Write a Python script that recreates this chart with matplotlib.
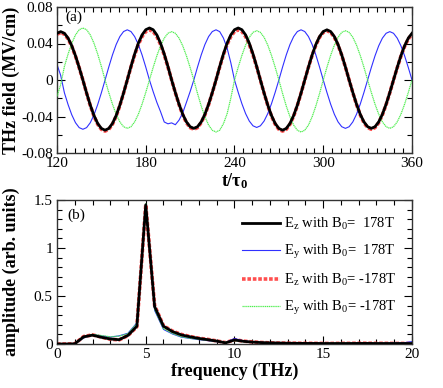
import numpy as np
import matplotlib
matplotlib.use("Agg")
import matplotlib.pyplot as plt
from matplotlib.ticker import MultipleLocator, FixedLocator

plt.rcParams['font.family'] = ['Liberation Serif', 'DejaVu Serif']
plt.rcParams['mathtext.fontset'] = 'custom'
plt.rcParams['mathtext.rm'] = 'Liberation Serif'
plt.rcParams['mathtext.it'] = 'Liberation Serif:italic'
plt.rcParams['mathtext.bf'] = 'Liberation Serif:bold'

# ---------------- panel (a): time traces ----------------
t_start, t_step = 120.0, 2.5
ez_pos = [0.0512, 0.053, 0.0512, 0.0459, 0.0375, 0.0265, 0.0137, 0.0, -0.0142, -0.0275,
          -0.0389, -0.0476, -0.0531, -0.055, -0.0531, -0.0476, -0.0389, -0.0275, -0.0142, 0.0,
          0.0148, 0.0285, 0.0403, 0.0494, 0.0551, 0.057, 0.0551, 0.0494, 0.0403, 0.0285,
          0.0148, 0.0, -0.0137, -0.0265, -0.0375, -0.0459, -0.0512, -0.053, -0.0512, -0.0459,
          -0.0375, -0.0265, -0.0137, 0.0, 0.0148, 0.0285, 0.0403, 0.0494, 0.0551, 0.057,
          0.0551, 0.0494, 0.0403, 0.0285, 0.0148, 0.0, -0.0142, -0.0275, -0.0389, -0.0476,
          -0.0531, -0.055, -0.0531, -0.0476, -0.0389, -0.0275, -0.0142, 0.0, 0.0142, 0.0275,
          0.0389, 0.0476, 0.0531, 0.055, 0.0531, 0.0476, 0.0389, 0.0275, 0.0142, 0.0,
          -0.0137, -0.0265, -0.0375, -0.0459, -0.0512, -0.053, -0.0512, -0.0459, -0.0375, -0.0265,
          -0.0137, 0.0, 0.0137, 0.0265, 0.0375, 0.0459, 0.0512]
ey_pos = [0.017, 0.005, -0.014, -0.027, -0.0382, -0.0468, -0.0522, -0.054, -0.0522, -0.0468,
          -0.0382, -0.027, -0.014, 0.0, 0.0142, 0.0275, 0.0389, 0.0476, 0.0531, 0.055,
          0.0531, 0.0476, 0.0389, 0.0275, 0.0142, 0.0, -0.0127, -0.0245, -0.0347, -0.046,
          -0.048, -0.047, -0.049, -0.044, -0.036, -0.0245, -0.0127, 0.0, 0.0142, 0.0275,
          0.0389, 0.0476, 0.0531, 0.055, 0.053, 0.046, 0.035, 0.019, 0.0, -0.0135,
          -0.026, -0.0368, -0.045, -0.0502, -0.052, -0.0502, -0.045, -0.0368, -0.026, -0.0135,
          0.0, 0.0142, 0.0275, 0.0389, 0.0476, 0.0531, 0.055, 0.0531, 0.0476, 0.0389,
          0.0275, 0.0142, 0.0, -0.0137, -0.0265, -0.0375, -0.0459, -0.0512, -0.053, -0.0512,
          -0.0459, -0.0375, -0.0265, -0.0137, 0.0, 0.0137, 0.0265, 0.0375, 0.0459, 0.0512,
          0.053, 0.0512, 0.0459, 0.0375, 0.0265, 0.0137, 0.0]
ez_neg = [0.0502, 0.052, 0.0502, 0.045, 0.0368, 0.026, 0.0134, 0.0, -0.0145, -0.028,
          -0.0396, -0.0485, -0.0541, -0.056, -0.0541, -0.0485, -0.0396, -0.028, -0.0145, 0.0,
          0.0142, 0.0275, 0.0389, 0.0476, 0.0531, 0.055, 0.0531, 0.0476, 0.0389, 0.0275,
          0.0142, 0.0, -0.014, -0.027, -0.0382, -0.0468, -0.0522, -0.054, -0.0522, -0.0468,
          -0.0382, -0.027, -0.014, 0.0, 0.0142, 0.0275, 0.0389, 0.0476, 0.0531, 0.055,
          0.0531, 0.0476, 0.0389, 0.0275, 0.0142, 0.0, -0.0145, -0.028, -0.0396, -0.0485,
          -0.0541, -0.056, -0.0541, -0.0485, -0.0396, -0.028, -0.0145, 0.0, 0.014, 0.027,
          0.0382, 0.0468, 0.0522, 0.054, 0.0522, 0.0468, 0.0382, 0.027, 0.014, 0.0,
          -0.014, -0.027, -0.0382, -0.0468, -0.0522, -0.054, -0.0522, -0.0468, -0.0382, -0.027,
          -0.014, 0.0, 0.0134, 0.026, 0.0368, 0.045, 0.0502]
ey_neg = [-0.018, -0.005, 0.0148, 0.0285, 0.0403, 0.0494, 0.0551, 0.057, 0.0551, 0.0494,
          0.0403, 0.0285, 0.0148, 0.0, -0.0137, -0.0265, -0.0375, -0.0459, -0.0512, -0.053,
          -0.0512, -0.0459, -0.0375, -0.0265, -0.0137, 0.0, 0.0137, 0.0265, 0.0375, 0.0459,
          0.0512, 0.053, 0.0512, 0.0459, 0.0375, 0.0265, 0.0137, 0.0, -0.0148, -0.0285,
          -0.0403, -0.0494, -0.0551, -0.057, -0.055, -0.048, -0.037, -0.02, 0.0, 0.014,
          0.027, 0.0382, 0.0468, 0.0522, 0.054, 0.0522, 0.0468, 0.0382, 0.027, 0.014,
          0.0, -0.0148, -0.0285, -0.0403, -0.0494, -0.0551, -0.057, -0.0551, -0.0494, -0.0403,
          -0.0285, -0.0148, 0.0, 0.014, 0.027, 0.0382, 0.0468, 0.0522, 0.054, 0.0522,
          0.0468, 0.0382, 0.027, 0.014, 0.0, -0.0137, -0.0265, -0.0375, -0.0459, -0.0512,
          -0.053, -0.0512, -0.0459, -0.0375, -0.0265, -0.0137, 0.0]
t = t_start + t_step * np.arange(len(ez_pos))

# ---------------- panel (b): spectra ----------------
freq = np.arange(41) * 0.5
amp_ez_pos = [0, 0, 0.002, 0.075, 0.092, 0.07, 0.052, 0.045, 0.09, 0.185, 1.45, 0.39, 0.185,
              0.13, 0.095, 0.075, 0.058, 0.045, 0.03, 0.012, 0.042, 0.028, 0.02, 0.015, 0.012,
              0.01, 0.008, 0.007, 0.006, 0.006, 0.005, 0.005, 0.005, 0.005, 0.006, 0.006,
              0.005, 0.005, 0.005, 0.005, 0.005]
amp_ey_pos = [0, 0, 0.002, 0.062, 0.098, 0.085, 0.072, 0.085, 0.112, 0.22, 1.45, 0.35, 0.152,
              0.105, 0.072, 0.058, 0.045, 0.035, 0.025, 0.015, 0.058, 0.032, 0.022, 0.016, 0.013,
              0.012, 0.01, 0.008, 0.007, 0.006, 0.006, 0.006, 0.007, 0.008, 0.008, 0.008,
              0.008, 0.009, 0.01, 0.012, 0.025]
amp_ez_neg = [0, 0, 0.002, 0.078, 0.095, 0.072, 0.05, 0.043, 0.088, 0.18, 1.45, 0.4, 0.19,
              0.135, 0.1, 0.078, 0.06, 0.048, 0.032, 0.014, 0.045, 0.03, 0.022, 0.016, 0.012,
              0.01, 0.009, 0.008, 0.007, 0.007, 0.006, 0.006, 0.007, 0.007, 0.008, 0.008,
              0.007, 0.007, 0.006, 0.006, 0.006]
amp_ey_neg = [0, 0, 0.002, 0.065, 0.1, 0.088, 0.075, 0.082, 0.108, 0.215, 1.46, 0.36, 0.16,
              0.11, 0.075, 0.06, 0.048, 0.038, 0.028, 0.018, 0.035, 0.025, 0.02, 0.015, 0.012,
              0.01, 0.009, 0.008, 0.008, 0.008, 0.008, 0.009, 0.01, 0.01, 0.01, 0.01,
              0.009, 0.009, 0.008, 0.008, 0.008]

labels = [r'E$_\mathrm{z}$ with B$_0$=  178T', r'E$_\mathrm{y}$ with B$_0$=  178T',
          r'E$_\mathrm{z}$ with B$_0$= -178T', r'E$_\mathrm{y}$ with B$_0$= -178T']

W, H = 443, 388
fig = plt.figure(figsize=(W / 100, H / 100), dpi=100)
ax1 = fig.add_axes([57 / W, 1 - 153 / H, 355 / W, 146 / H])
ax2 = fig.add_axes([57 / W, 1 - 344 / H, 355 / W, 144 / H])

styles = [dict(color='black', lw=2.0, ls='-', zorder=3),
          dict(color='#3030ff', lw=0.8, ls='-', zorder=2.5),
          dict(color='#ff3030', lw=2.6, ls=(0, (1, 0.5)), alpha=0.85, zorder=2.4),
          dict(color='#50ee50', lw=0.9, ls=(0, (1, 0.5)), zorder=2.6)]

for y, st in zip([ez_pos, ey_pos, ez_neg, ey_neg], styles):
    ax1.plot(t, y, **st)
for y, st, lab in zip([amp_ez_pos, amp_ey_pos, amp_ez_neg, amp_ey_neg], styles, labels):
    ax2.plot(freq, y, label=lab, **st)

ax1.set_xlim(120, 360)
ax1.set_ylim(-0.08, 0.08)
ax1.xaxis.set_major_locator(MultipleLocator(60))
ax1.xaxis.set_minor_locator(MultipleLocator(6))
ax1.yaxis.set_major_locator(FixedLocator([-0.08, -0.04, 0, 0.04, 0.08]))
ax1.yaxis.set_minor_locator(MultipleLocator(0.02))
ax1.set_yticklabels(['-0.08', '-0.04', '0', '0.04', '0.08'])
ax1.set_xlabel(r't/$\mathbf{\tau_0}$', fontsize=13, fontweight='bold', labelpad=1)
ax1.set_ylabel('THz field (MV/cm)', fontsize=13, fontweight='bold')
ax1.yaxis.set_label_coords(-0.105, 0.5)
ax1.text(0.025, 0.975, '(a)', transform=ax1.transAxes, fontsize=11, va='top', ha='left')

ax2.set_xlim(0, 20)
ax2.set_ylim(0, 1.5)
ax2.xaxis.set_major_locator(MultipleLocator(5))
ax2.xaxis.set_minor_locator(MultipleLocator(1))
ax2.yaxis.set_major_locator(FixedLocator([0, 0.5, 1, 1.5]))
ax2.yaxis.set_minor_locator(MultipleLocator(0.1))
ax2.set_yticklabels(['0', '0.5', '1', '1.5'])
ax2.set_xlabel('frequency (THz)', fontsize=13, fontweight='bold', labelpad=1)
ax2.set_ylabel('amplitude (arb. units)', fontsize=13, fontweight='bold')
ax2.yaxis.set_label_coords(-0.105, 0.5)
ax2.text(0.03, 0.94, '(b)', transform=ax2.transAxes, fontsize=11, va='top', ha='left')
leg = ax2.legend(loc='upper right', bbox_to_anchor=(0.985, 0.96), frameon=False, fontsize=10.5,
                 handlelength=2.6, handletextpad=0.3, labelspacing=0.75, borderaxespad=0.3)

for ax in (ax1, ax2):
    ax.tick_params(which='both', direction='in', top=True, right=True, labelsize=11)
    ax.tick_params(which='major', length=6, width=0.8, pad=3)
    ax.tick_params(which='minor', length=3.5, width=0.8)
    for s in ax.spines.values():
        s.set_linewidth(1.0)
        s.set_color('#333333')

fig.savefig('out.png', dpi=100)
